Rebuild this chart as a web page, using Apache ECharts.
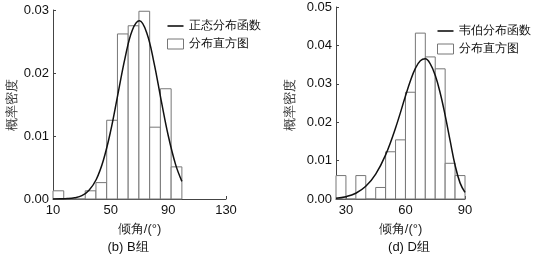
<!DOCTYPE html>
<html><head><meta charset="utf-8">
<script src="https://cdn.jsdelivr.net/npm/echarts@6/dist/echarts.min.js"></script>
<style>html,body{margin:0;padding:0;background:#fff}#c{width:536px;height:255px}</style>
</head><body><div id="c"></div>
<script>
// ---- Data (b) B组 ----
var bEdges = [10, 17.45, 24.9, 32.35, 39.8, 47.25, 54.7, 62.15, 69.6, 77.05, 84.5, 91.95, 99.4];
var bDensity = [0.0013, 0, 0, 0.0013, 0.0026, 0.0125, 0.0262, 0.0275, 0.0298, 0.0114, 0.0175, 0.0051];
var bCurveX = [10, 15, 20, 25, 30, 35, 40, 45, 50, 55, 60, 65, 70, 75, 80, 85, 90, 95, 99.4];
var bCurveY = [0.00001, 0.00002, 0.00006, 0.0002, 0.00053, 0.0014, 0.0031, 0.0062, 0.0108, 0.0166, 0.0224, 0.0268, 0.0283, 0.0264, 0.0217, 0.0157, 0.0100, 0.0055, 0.0028];
var bXTicks = [10, 50, 90, 130];
var bYTicks = [0, 0.01, 0.02, 0.03];
// ---- Data (d) D组 ----
var dEdges = [25, 30, 35, 40, 45, 50, 55, 60, 65, 70, 75, 80, 85, 90];
var dDensity = [0.0061, 0, 0.0061, 0, 0.0030, 0.0123, 0.0154, 0.0278, 0.0432, 0.0370, 0.0339, 0.0093, 0.0061];
var dCurveX = [25, 30, 35, 40, 45, 50, 55, 60, 62.5, 65, 67.5, 70, 72.5, 75, 77.5, 80, 82.5, 85, 87.5, 90];
var dCurveY = [0.0002, 0.0006, 0.0015, 0.0033, 0.0065, 0.0115, 0.0185, 0.0268, 0.0308, 0.0340, 0.0360, 0.0365, 0.0352, 0.0322, 0.0276, 0.0218, 0.0152, 0.0088, 0.0042, 0.0017];
var dXTicks = [30, 60, 90];
var dYTicks = [0, 0.01, 0.02, 0.03, 0.04, 0.05];

function bins(edges, dens){ var o=[]; for(var i=0;i<dens.length;i++){ o.push([edges[i], edges[i+1], dens[i]]);} return o; }
function pts(xs, ys){ return xs.map(function(x,i){return [x, ys[i]];}); }

var FONT = 'Liberation Sans, Arial, sans-serif';
var AX = '#444';
var BAR = '#777';
var LINE_ICON = 'path://M0,0H16V1.6H0Z';

function renderBin(params, api){
  var p0 = api.coord([api.value(0), api.value(2)]);
  var p1 = api.coord([api.value(1), 0]);
  return {type:'rect', shape:{x:p0[0], y:p0[1], width:p1[0]-p0[0], height:p1[1]-p0[1]},
    style:{fill:'#fff', stroke:BAR, lineWidth:1}};
}

function xAxis(idx, min, max, ticks){
  return {type:'value', gridIndex:idx, min:min, max:max,
    name:'倾角/(°)', nameLocation:'middle', nameGap:24, nameMoveOverlap:false,
    nameTextStyle:{fontFamily:FONT, fontSize:13, color:'#222'},
    axisLine:{lineStyle:{color:AX, width:1}},
    axisTick:{show:true, inside:true, length:3, customValues:ticks, lineStyle:{color:AX}},
    axisLabel:{customValues:ticks, fontFamily:FONT, fontSize:13, color:'#111', margin:5},
    splitLine:{show:false}};
}
function yAxis(idx, max, ticks){
  return {type:'value', gridIndex:idx, min:0, max:max, interval:0.01,
    axisLine:{show:true, lineStyle:{color:AX, width:1}},
    axisTick:{show:true, inside:true, length:3, lineStyle:{color:AX}},
    axisLabel:{fontFamily:FONT, fontSize:13, color:'#111', margin:4, formatter:function(v){return v.toFixed(2);}},
    splitLine:{show:false}};
}
function yName(x, y){
  return {type:'text', x:x, y:y, rotation:Math.PI/2,
    style:{text:'概率密度', font:'13px ' + FONT, fill:'#333', textAlign:'center', textVerticalAlign:'middle'}};
}

var chart = echarts.init(document.getElementById('c'), null, {renderer:'canvas'});
chart.setOption({
  animation:false,
  backgroundColor:'#fff',
  title:[
    {text:'(b) B组', left:128, top:241, padding:0, textAlign:'center', textStyle:{fontFamily:FONT, fontSize:13, fontWeight:'normal', color:'#111'}},
    {text:'(d) D组', left:409, top:241, padding:0, textAlign:'center', textStyle:{fontFamily:FONT, fontSize:13, fontWeight:'normal', color:'#111'}}
  ],
  graphic:[ yName(12, 105), yName(290, 105) ],
  grid:[
    {left:53, top:10, width:173, bottom:56, containLabel:false},
    {left:336, top:7, width:129, bottom:56, containLabel:false}
  ],
  legend:[
    {orient:'vertical', left:162, top:15, itemWidth:16, itemHeight:10, itemGap:6,
     textStyle:{fontFamily:FONT, fontSize:12, color:'#111'},
     data:[{name:'正态分布函数', icon:LINE_ICON, itemStyle:{color:'#111'}}, {name:'分布直方图', icon:'rect', itemStyle:{color:'#fff', borderColor:BAR, borderWidth:1}}]},
    {orient:'vertical', left:432, top:20, itemWidth:16, itemHeight:10, itemGap:6,
     textStyle:{fontFamily:FONT, fontSize:12, color:'#111'},
     data:[{name:'韦伯分布函数', icon:LINE_ICON, itemStyle:{color:'#111'}}, {name:'分布直方图 ', icon:'rect', itemStyle:{color:'#fff', borderColor:BAR, borderWidth:1}}]}
  ],
  xAxis:[ xAxis(0, 10, 130, bXTicks), xAxis(1, 25, 90, dXTicks) ],
  yAxis:[ yAxis(0, 0.03, bYTicks), yAxis(1, 0.05, dYTicks) ],
  series:[
    {name:'分布直方图', type:'custom', xAxisIndex:0, yAxisIndex:0, renderItem:renderBin,
     encode:{x:[0,1], y:2}, data:bins(bEdges, bDensity), z:1,
     itemStyle:{color:'#fff', borderColor:BAR, borderWidth:1}},
    {name:'正态分布函数', type:'line', xAxisIndex:0, yAxisIndex:0, data:pts(bCurveX, bCurveY),
     smooth:0.4, symbol:'none', showSymbol:false, z:5, lineStyle:{color:'#111', width:1.5}, itemStyle:{color:'#111'}},
    {name:'分布直方图 ', type:'custom', xAxisIndex:1, yAxisIndex:1, renderItem:renderBin,
     encode:{x:[0,1], y:2}, data:bins(dEdges, dDensity), z:1,
     itemStyle:{color:'#fff', borderColor:BAR, borderWidth:1}},
    {name:'韦伯分布函数', type:'line', xAxisIndex:1, yAxisIndex:1, data:pts(dCurveX, dCurveY),
     smooth:0.4, symbol:'none', showSymbol:false, z:5, lineStyle:{color:'#111', width:1.5}, itemStyle:{color:'#111'}}
  ]
});
</script></body></html>
